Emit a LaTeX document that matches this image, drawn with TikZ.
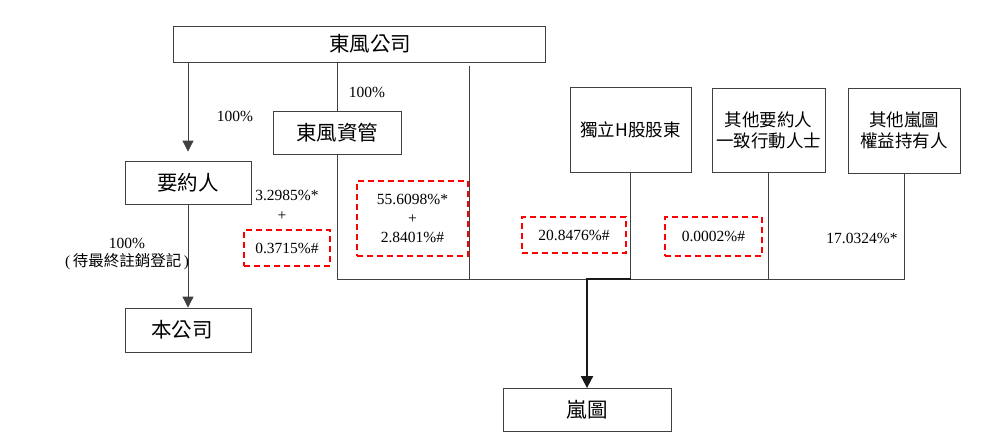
\documentclass[tikz,border=0pt]{standalone}
\usepackage{fontspec}
\setmainfont{Liberation Serif}
\newfontfamily\cjk{Noto Sans CJK TC}
\usetikzlibrary{arrows.meta}
\begin{document}
\begin{tikzpicture}[x=1pt,y=-1pt,
  box/.style={draw=black!75,line width=0.8pt,inner sep=0pt,align=center},
  bigtxt/.style={font=\cjk\fontsize{20.5}{23}\selectfont},
  midtxt/.style={font=\cjk\fontsize{17.5}{21}\selectfont},
  num/.style={font=\fontsize{15.5}{19}\selectfont,inner sep=0pt,align=center},
  redbox/.style={draw=red,line width=1.5pt,dash pattern=on 6pt off 4pt,inner sep=0pt,align=center,font=\fontsize{15.5}{19}\selectfont},
  conn/.style={draw=black!75,line width=0.8pt},
  arr/.style={conn,-{Triangle[width=11pt,length=11pt]}},
  thickarr/.style={draw=black!90,line width=1.8pt,-{Triangle[width=12pt,length=12pt]}}
]
\useasboundingbox (0,0) rectangle (1000,441);

% boxes
\node[box,bigtxt,minimum width=372,minimum height=36] (dfgs) at (359,44) {\hspace{22pt}東風公司};
\node[box,bigtxt,minimum width=126,minimum height=43] (yyr) at (188,182.5) {要約人};
\node[box,bigtxt,minimum width=128,minimum height=43] (dfzg) at (337,132.5) {東風資管};
\node[box,bigtxt,minimum width=126,minimum height=44] (bgs) at (188,330) {本公司\hspace{12pt}};
\node[box,midtxt,minimum width=121,minimum height=85] (hgu) at (630.5,129.5) {獨立H股股東};
\node[box,midtxt,minimum width=113,minimum height=84] (qt1) at (768.5,130) {其他要約人\\一致行動人士};
\node[box,midtxt,minimum width=112,minimum height=85] (qt2) at (904,130.5) {其他嵐圖\\權益持有人};
\node[box,bigtxt,minimum width=168,minimum height=43] (lt) at (587,410) {嵐圖};

% coordinates
\coordinate (base) at (0,279);
\coordinate (v3) at (469,66);

% connectors
\draw[arr,shorten >=9pt] (dfgs.south -| yyr.north) -- (yyr.north);
\draw[arr] (yyr.south) -- (bgs.north);
\draw[conn] (dfgs.south -| dfzg.north) -- (dfzg.north);
\draw[conn] (dfzg.south) -- (dfzg.south |- base) -- (qt2.south |- base) -- (qt2.south);
\draw[conn] (v3) -- (v3 |- base);
\draw[conn] (hgu.south) -- (hgu.south |- base);
\draw[conn] (qt1.south) -- (qt1.south |- base);
\draw[thickarr] (hgu.south |- base) -- (lt.north |- base) -- (lt.north);

% labels
\node[num] (l1) at (235,116) {100\%};
\node[num] (l2) at (367,92) {100\%};
\node[num] (l3) at (127,243) {100\%};
\node[num] (l4) at (127,262) {(\,{\cjk\fontsize{15.5}{17}\selectfont 待最終註銷登記}\,)};
\node[num] (l5) at (287,195) {3.2985\%*};
\node[num] (l6) at (282,216) {+};
\node[num] (l7) at (862,238) {17.0324\%*};

% red dashed boxes
\node[redbox,minimum width=86,minimum height=36] (r1) at (287,248) {0.3715\%\#};
\node[redbox,minimum width=111,minimum height=75] (r2) at (412.5,218.5) {55.6098\%*\\+\\2.8401\%\#};
\node[redbox,minimum width=104,minimum height=36] (r3) at (574,235) {20.8476\%\#};
\node[redbox,minimum width=97,minimum height=39] (r4) at (713.5,236.5) {0.0002\%\#};
\end{tikzpicture}
\end{document}
